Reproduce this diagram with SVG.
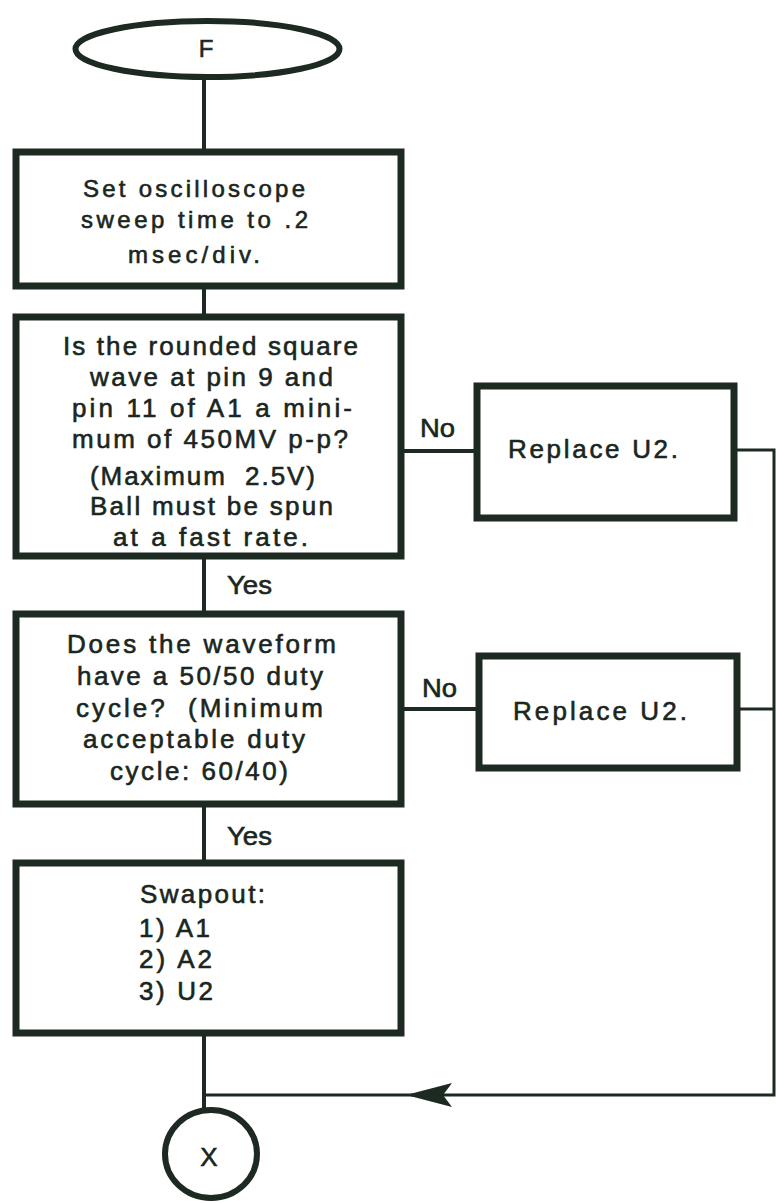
<svg xmlns="http://www.w3.org/2000/svg" width="776" height="1203" viewBox="0 0 776 1203">
<style>
.box{fill:#fff;stroke:#1d2a22;stroke-width:7;stroke-linejoin:miter}
.term{fill:#fff;stroke:#1d2a22;stroke-width:6}
.ln{fill:none;stroke:#1d2a22;stroke-width:4}
.thin{fill:none;stroke:#1d2a22;stroke-width:3}
text{font-family:"Liberation Sans","DejaVu Sans",sans-serif;fill:#1a2620;stroke:#1a2620;stroke-width:0.6}
.t1{font-size:24px}
.t2{font-size:26px}
.t3{font-size:26px}
.lab{font-size:26px}
</style>
<rect width="776" height="1203" fill="#fff"/>
<g id="connectors">
<line class="ln" x1="204" y1="78" x2="204" y2="150"/>
<line class="ln" x1="204" y1="286" x2="204" y2="315"/>
<line class="ln" x1="204" y1="556" x2="204" y2="612"/>
<line class="ln" x1="204" y1="804" x2="204" y2="861"/>
<line class="ln" x1="204" y1="1033" x2="204" y2="1111"/>
<line class="ln" x1="401" y1="451" x2="477" y2="451"/>
<line class="ln" x1="401" y1="709" x2="479" y2="709"/>
<polyline class="thin" points="734,450 774,450 774,1095 204,1095"/>
<line class="thin" x1="737" y1="709" x2="774" y2="709"/>
<polygon points="406,1095 452,1083 443,1095 452,1107" fill="#1d2a22"/>
<text class="lab" x="420" y="437" textLength="35" lengthAdjust="spacingAndGlyphs">No</text>
<text class="lab" x="422" y="697" textLength="35" lengthAdjust="spacingAndGlyphs">No</text>
<text class="lab" x="227" y="594" textLength="45" lengthAdjust="spacingAndGlyphs">Yes</text>
<text class="lab" x="227" y="845" textLength="45" lengthAdjust="spacingAndGlyphs">Yes</text>
</g>
<g id="start">
<ellipse class="term" cx="207.5" cy="49" rx="132" ry="28"/>
<text x="206" y="57" font-size="24" text-anchor="middle">F</text>
</g>
<g id="set-sweep">
<rect class="box" x="16" y="152" width="385" height="134"/>
<text class="t1" x="83" y="197" textLength="222" lengthAdjust="spacing">Set oscilloscope</text>
<text class="t1" x="81" y="228" textLength="227" lengthAdjust="spacing">sweep time to .2</text>
<text class="t1" x="128" y="263" textLength="132" lengthAdjust="spacing">msec/div.</text>
</g>
<g id="check-amplitude">
<rect class="box" x="16" y="317" width="385" height="239"/>
<text class="t2" x="63" y="355" textLength="295" lengthAdjust="spacing">Is the rounded square</text>
<text class="t2" x="90" y="386" textLength="243" lengthAdjust="spacing">wave at pin 9 and</text>
<text class="t2" x="72" y="417" textLength="280" lengthAdjust="spacing">pin 11 of A1 a mini-</text>
<text class="t2" x="72" y="448" textLength="276" lengthAdjust="spacing">mum of 450MV p-p?</text>
<text class="t2" x="90" y="485" textLength="225" lengthAdjust="spacing" xml:space="preserve">(Maximum  2.5V)</text>
<text class="t2" x="90" y="515" textLength="243" lengthAdjust="spacing">Ball must be spun</text>
<text class="t2" x="113" y="546" textLength="195" lengthAdjust="spacing">at a fast rate.</text>
</g>
<g id="replace-u2-a">
<rect class="box" x="477" y="386" width="257" height="132"/>
<text class="lab" x="508" y="458" textLength="170" lengthAdjust="spacing">Replace U2.</text>
</g>
<g id="check-duty">
<rect class="box" x="16" y="614" width="385" height="190"/>
<text class="t3" x="67" y="653" textLength="269" lengthAdjust="spacing">Does the waveform</text>
<text class="t3" x="77" y="685" textLength="246" lengthAdjust="spacing">have a 50/50 duty</text>
<text class="t3" x="76" y="717" textLength="247" lengthAdjust="spacing" xml:space="preserve">cycle?  (Minimum</text>
<text class="t3" x="83" y="748" textLength="222" lengthAdjust="spacing">acceptable duty</text>
<text class="t3" x="110" y="780" textLength="178" lengthAdjust="spacing">cycle: 60/40)</text>
</g>
<g id="replace-u2-b">
<rect class="box" x="479" y="656" width="258" height="112"/>
<text class="lab" x="513" y="720" textLength="174" lengthAdjust="spacing">Replace U2.</text>
</g>
<g id="swapout">
<rect class="box" x="16" y="863" width="385" height="170"/>
<text class="t3" x="140" y="903" textLength="125" lengthAdjust="spacing">Swapout:</text>
<text class="t3" x="139" y="937" textLength="71" lengthAdjust="spacing">1) A1</text>
<text class="t3" x="139" y="968" textLength="73" lengthAdjust="spacing">2) A2</text>
<text class="t3" x="139" y="1000" textLength="74" lengthAdjust="spacing">3) U2</text>
</g>
<g id="end">
<ellipse class="term" cx="211" cy="1154" rx="46" ry="44"/>
<text x="209" y="1166" font-size="26" text-anchor="middle">X</text>
</g>
</svg>
